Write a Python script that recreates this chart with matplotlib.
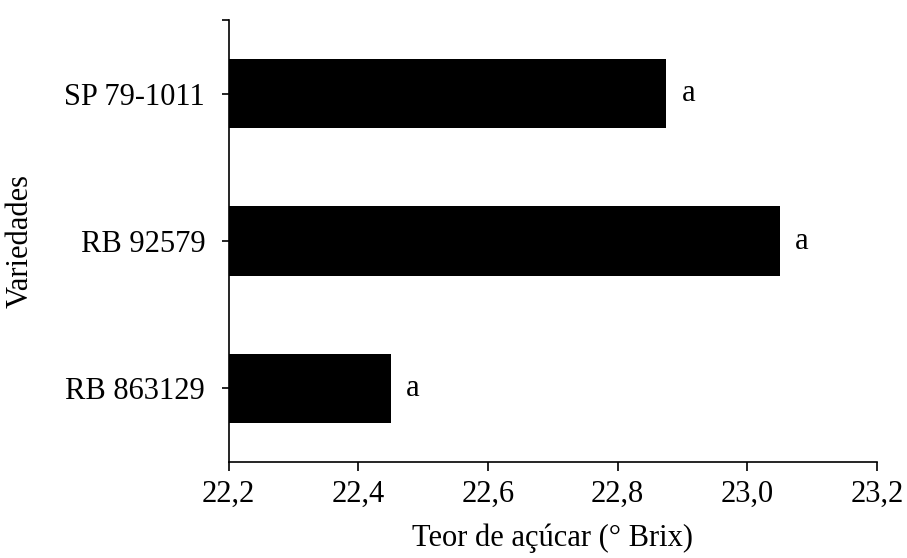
import matplotlib.pyplot as plt
from matplotlib.ticker import FuncFormatter

variedades = ['RB 863129', 'RB 92579', 'SP 79-1011']
brix = [22.45, 23.05, 22.875]
letras = ['a', 'a', 'a']
xticks = [22.2, 22.4, 22.6, 22.8, 23.0, 23.2]

plt.rcParams['font.family'] = ['Liberation Serif', 'DejaVu Serif']

fig = plt.figure(figsize=(9.07, 5.58), dpi=100)
ax = fig.add_axes([0.2522, 0.172, 0.967 - 0.2522, 0.964 - 0.172])

y = range(len(variedades))
ax.barh(y, [b - 22.2 for b in brix], left=22.2, height=0.47, color='black')

for i in y:
    ax.annotate(letras[i], (brix[i], i), xytext=(11, 0), textcoords='offset points',
                va='center', ha='left', fontsize=22)

ax.set_xlim(22.2, 23.2)
ax.set_ylim(-0.5, 2.5)
ax.set_xticks(xticks)
ax.xaxis.set_major_formatter(FuncFormatter(lambda v, p: f'{v:.1f}'.replace('.', ',')))
ax.set_yticks(list(y))
ax.set_yticklabels([v + '  ' for v in variedades])
ax.set_yticks([2.5], minor=True)

ax.spines['top'].set_visible(False)
ax.spines['right'].set_visible(False)
ax.spines['left'].set_linewidth(1.2)
ax.spines['bottom'].set_linewidth(1.2)
ax.tick_params(axis='both', which='both', direction='out', width=1.2, labelsize=22, colors='black')
ax.tick_params(axis='x', length=6.5, pad=6)
ax.tick_params(axis='y', which='both', length=5, pad=1)

ax.set_xlabel('Teor de açúcar (° Brix)', fontsize=22)
ax.set_ylabel('Variedades', fontsize=22)
ax.xaxis.set_label_coords(0.5, -0.172)
ax.yaxis.set_label_coords(-0.322, 0.5)
ax.xaxis.label.set_va('center')
ax.yaxis.label.set_va('center')

fig.savefig('out.png', dpi=100)
